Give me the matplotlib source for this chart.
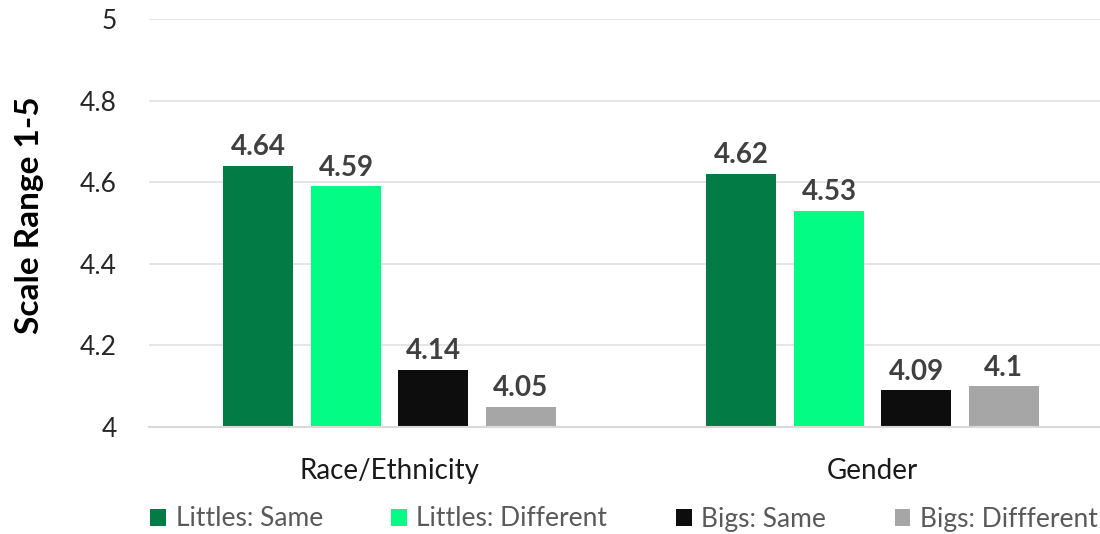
import matplotlib
matplotlib.use("Agg")
import matplotlib.pyplot as plt
import numpy as np

categories = ["Race/Ethnicity", "Gender"]
series_names = ["Littles: Same", "Littles: Different", "Bigs: Same", "Bigs: Diffferent"]
littles_same = [4.64, 4.62]
littles_diff = [4.59, 4.53]
bigs_same = [4.14, 4.09]
bigs_diff = [4.05, 4.10]
value_labels = [["4.64", "4.62"], ["4.59", "4.53"], ["4.14", "4.09"], ["4.05", "4.1"]]
yticks = [4, 4.2, 4.4, 4.6, 4.8, 5]
ytick_labels = ["4", "4.2", "4.4", "4.6", "4.8", "5"]

colors = ["#027B44", "#02FC84", "#0D0D0D", "#A6A6A6"]
series = [littles_same, littles_diff, bigs_same, bigs_diff]

plt.rcParams['font.family'] = ['Lato', 'DejaVu Sans']

fig = plt.figure(figsize=(11, 5.34), dpi=100)
W, H = 1100, 534
ax = fig.add_axes([149 / W, 1 - 427 / H, (1100 - 149) / W, (427 - 19) / H])

x = np.arange(len(categories))
offsets = [-0.271, -0.089, 0.091, 0.273]
width = 0.145
for s, vals, c, off, labs in zip(series_names, series, colors, offsets, value_labels):
    ax.bar(x + off, np.array(vals) - 4, width=width, bottom=4, color=c, label=s, zorder=3)
    for xi, v, lab in zip(x + off, vals, labs):
        ax.annotate(lab, (xi, v), xytext=(0, 4), textcoords="offset points",
                    ha="center", va="bottom", fontsize=20, fontweight="bold", color="#404040")

ax.set_xlim(-0.497, 1.472)
ax.set_ylim(4, 5)
ax.set_yticks(yticks)
ax.set_yticklabels(ytick_labels)
ax.set_xticks(x)
ax.set_xticklabels(categories)
ax.tick_params(axis="y", length=0, pad=23, labelsize=19, labelcolor="#262626")
ax.tick_params(axis="x", length=0, pad=22, labelsize=20, labelcolor="#1a1a1a")
ax.grid(axis="y", color="#E3E3E3", linewidth=1.3, zorder=0)
for sp in ["top", "right", "left"]:
    ax.spines[sp].set_visible(False)
ax.spines["bottom"].set_color("#D9D9D9")
ax.spines["bottom"].set_linewidth(1.5)
ax.spines["bottom"].set_zorder(4)

fig.text(30 / W, 1 - 215 / H, "Scale Range 1-5", rotation=90, ha="center", va="center",
         fontsize=24, fontweight="bold", color="#000000")

leg = fig.legend(loc="center", bbox_to_anchor=(624 / W, 1 - 519 / H), ncol=4, frameon=False,
                 fontsize=19, handlelength=0.6, handleheight=0.6, handletextpad=0.35,
                 columnspacing=2.6, labelcolor="#595959")

fig.savefig("out.png", dpi=100)
